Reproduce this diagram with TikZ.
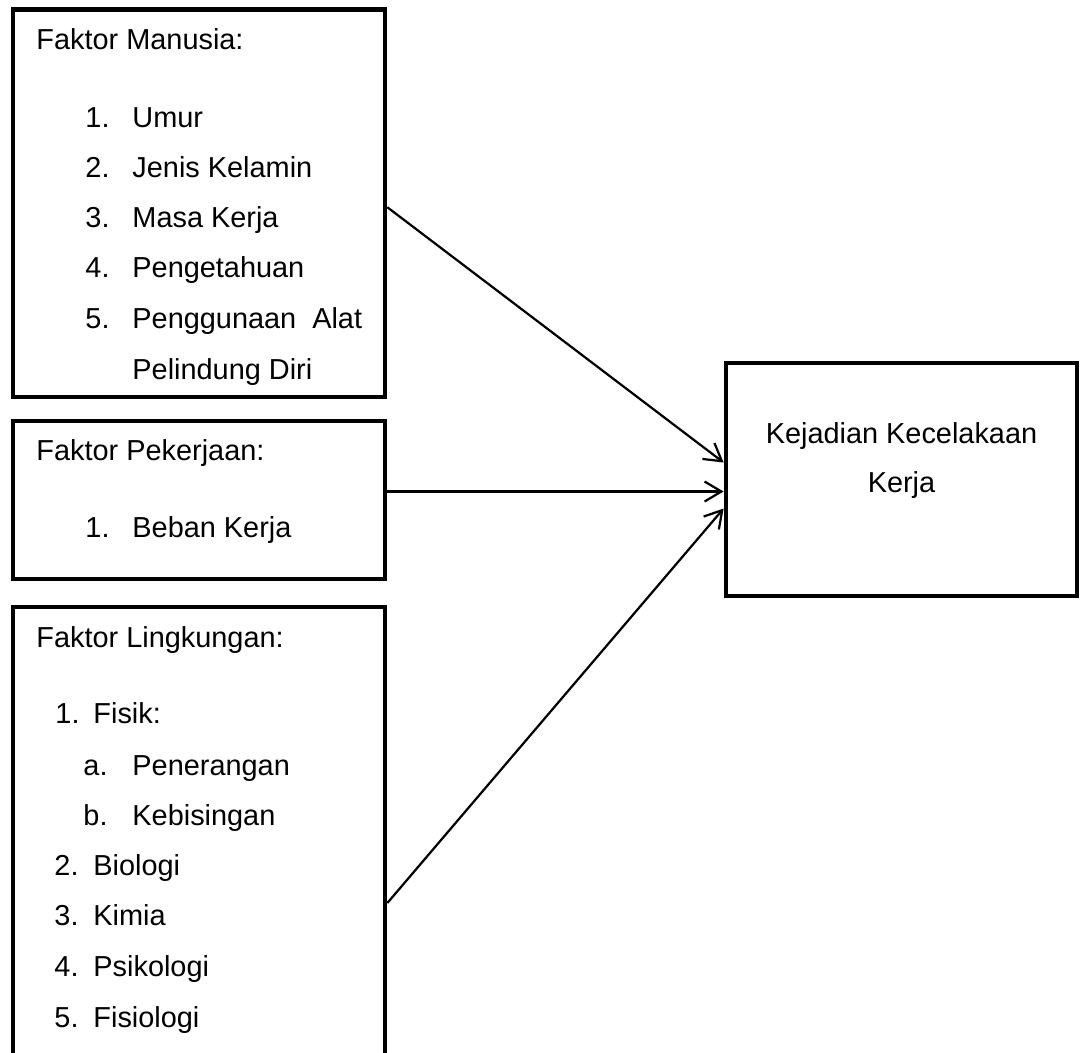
\documentclass[tikz,border=0pt]{standalone}
\usepackage{fontspec}
\setmainfont{Liberation Sans}
\usetikzlibrary{arrows.meta,calc,positioning}

\tikzset{
  factorbox/.style={draw, line width=2.1pt, inner sep=0pt},
  item/.style={anchor=base west, inner sep=0pt},
  link/.style={-{Straight Barb[length=7.6pt, width=9pt]}, line width=1pt},
}

\begin{document}
\begin{tikzpicture}[x=0.45pt, y=-0.45pt, font=\fontsize{13}{16}\selectfont]
  \clip (0,0) rectangle (1084,1052);

  % Boxes
  \node[factorbox, minimum width=167.4pt, minimum height=174.4pt] (manusia) at (199,203.25) {};
  \node[factorbox, minimum width=167.4pt, minimum height=71.1pt] (pekerjaan) at (199,500) {};
  \node[factorbox, minimum width=167.4pt, minimum height=266.4pt] (lingkungan) at (199,903) {};
  \node[factorbox, minimum width=158pt, minimum height=104.9pt] (kejadian) at (901.5,479.5) {};

  % Faktor Manusia
  \node[item] (mhead) at (36,49) {Faktor Manusia:};
  \foreach \num/\txt [count=\i from 0] in {1./Umur, 2./Jenis Kelamin, 3./Masa Kerja, 4./Pengetahuan, 5./Penggunaan\ \ Alat} {
    \node[item] (mnum\i) at (85,127+50.3*\i) {\num};
    \node[item] (mtxt\i) at (132,127+50.3*\i) {\txt};
  }
  \node[item] (mtxt5) at (132,379) {Pelindung Diri};

  % Faktor Pekerjaan
  \node[item] (phead) at (36,460) {Faktor Pekerjaan:};
  \node[item] (pnum0) at (85,537) {1.};
  \node[item] (ptxt0) at (132,537) {Beban Kerja};

  % Faktor Lingkungan
  \node[item] (lhead) at (36,647) {Faktor Lingkungan:};
  \node[item] (lnum1) at (55,723) {1.};
  \node[item] (ltxt1) at (93,723) {Fisik:};
  \foreach \num/\txt [count=\i from 0] in {a./Penerangan, b./Kebisingan} {
    \node[item] (lsub\i) at (83,775+50*\i) {\num};
    \node[item] (lsubtxt\i) at (132,775+50*\i) {\txt};
  }
  \foreach \num/\txt [count=\i from 0] in {2./Biologi, 3./Kimia, 4./Psikologi, 5./Fisiologi} {
    \node[item] (lnumb\i) at (54,875+50.7*\i) {\num};
    \node[item] (ltxtb\i) at (93,875+50.7*\i) {\txt};
  }

  % Kejadian Kecelakaan Kerja
  \node[anchor=base, inner sep=0pt] (ktxt1) at (901.5,443) {Kejadian Kecelakaan};
  \node[anchor=base, inner sep=0pt] (ktxt2) at (901.5,492) {Kerja};

  % Arrows
  \coordinate (in1) at ($(kejadian.west)+(0,-17)$);
  \coordinate (in2) at ($(kejadian.west)+(0,12)$);
  \coordinate (in3) at ($(kejadian.west)+(0,29)$);
  \draw[link] ($(manusia.east)+(0,4)$) -- (in1);
  \draw[link] (pekerjaan.east |- in2) -- (in2);
  \draw[link] (lingkungan.east) -- (in3);
\end{tikzpicture}
\end{document}
